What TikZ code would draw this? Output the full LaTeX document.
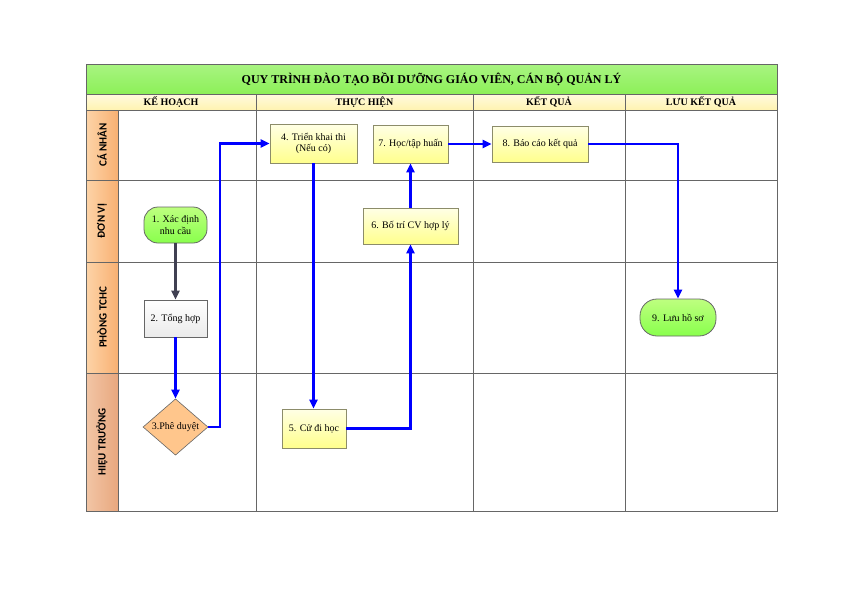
\documentclass[tikz,border=0pt]{standalone}
\usepackage{fontspec}
\setmainfont{Liberation Serif}
\newfontfamily\lanefont{Carlito}
\usetikzlibrary{shapes.geometric,arrows.meta}

\definecolor{gridgray}{HTML}{666666}
\definecolor{titlegreen}{HTML}{8CF058}
\definecolor{headyellow}{HTML}{FFF3B0}
\definecolor{boxline}{HTML}{8C8C6A}
\definecolor{darklink}{HTML}{404052}
\definecolor{lanelight}{HTML}{FDD4A8}
\definecolor{lanedark}{HTML}{F8B072}
\definecolor{bosslight}{HTML}{F2C6A6}
\definecolor{bossdark}{HTML}{E8A77E}

\tikzset{
  box/.style={draw=boxline, line width=0.8pt, top color=yellow!10, bottom color=yellow!45,
    minimum height=37pt, inner sep=1pt, align=center, font=\fontsize{10}{11.5}\selectfont},
  term/.style={box, draw=gridgray, top color=green!35!lime!50, bottom color=green!55!lime!70,
    rounded corners=16pt},
  link/.style={draw=blue, line width=2.5pt, -{Triangle[length=9pt,width=8pt]}},
  lane/.style={rotate=90, font=\lanefont\bfseries\fontsize{11}{12}\selectfont},
  head/.style={font=\bfseries\fontsize{10}{11}\selectfont}
}

\begin{document}
\begin{tikzpicture}[x=1pt,y=-1pt]
  \useasboundingbox (0,0) rectangle (842,595);

  % title and column heads
  \shade[top color=titlegreen!75!white, bottom color=titlegreen] (86,64) rectangle (777,94);
  \shade[top color=headyellow!40!white, bottom color=headyellow] (86,94) rectangle (777,110);
  \shade[left color=lanelight, right color=lanedark] (86,110) rectangle (118,373);
  \shade[left color=bosslight, right color=bossdark] (86,373) rectangle (118,511);

  \node[font=\bfseries\fontsize{12}{13}\selectfont] (title) at (431.5,79)
    {QUY TRÌNH ĐÀO TẠO BỒI DƯỠNG GIÁO VIÊN, CÁN BỘ QUẢN LÝ};
  \node[head] (plan) at (171,102) {KẾ HOẠCH};
  \node[head] (exec) at (364.5,102) {THỰC HIỆN};
  \node[head] (result) at (549,102) {KẾT QUẢ};
  \node[head] (store) at (701,102) {LƯU KẾT QUẢ};

  \node[lane] (canhan) at (102,145) {CÁ NHÂN};
  \node[lane] (donvi) at (102,221) {ĐƠN VỊ};
  \node[lane] (tchc) at (102,317.5) {PHÒNG TCHC};
  \node[lane] (hieutruong) at (102,442) {HIỆU TRƯỞNG};

  % grid
  \draw[gridgray, line width=0.8pt] (86,64) rectangle (777,511);
  \draw[gridgray, line width=0.8pt] (86,94) -- (777,94) (86,110) -- (777,110)
    (86,180) -- (777,180) (86,262) -- (777,262) (86,373) -- (777,373);
  \draw[gridgray, line width=0.8pt] (118,110) -- (118,511)
    (256,94) -- (256,511) (473,94) -- (473,511) (625,94) -- (625,511);

  % steps
  \node[term, minimum width=63pt, minimum height=36pt, rounded corners=14pt] (n1) at (175.5,225) {1. Xác định\\nhu cầu};
  \node[box, draw=gridgray, top color=white, bottom color=black!8, minimum width=63pt] (n2) at (175.5,318.5) {2. Tổng hợp};
  \node[diamond, draw=gridgray, line width=0.6pt, fill=orange!45!white, inner sep=0pt,
    minimum width=65pt, minimum height=45pt, font=\fontsize{10}{11}\selectfont] (n3) at (175.5,427) {3.Phê duyệt};
  \node[box, minimum width=87pt, minimum height=39pt] (n4) at (313.5,143.5) {4. Triển khai thi\\(Nếu có)};
  \node[box, minimum width=64pt, minimum height=39pt] (n5) at (314,428.5) {5. Cử đi học};
  \node[box, minimum width=95pt, minimum height=36pt] (n6) at (410.5,226) {6. Bố trí CV hợp lý};
  \node[box, minimum width=75pt, minimum height=38pt] (n7) at (410.5,144) {7. Học/tập huấn};
  \node[box, minimum width=96pt, minimum height=36pt] (n8) at (540,144) {8. Báo cáo kết quả};
  \node[term, minimum width=76pt, minimum height=37pt, rounded corners=17pt] (n9) at (678,317.5) {9. Lưu hồ sơ};

  \coordinate (bend3) at (220,427);

  % flow
  \draw[link, draw=darklink] (n1) -- (n2);
  \draw[link] (n2) -- (n3);
  \draw[link] (n3) -- (bend3) |- (n4);
  \draw[link] (n4.south) -- (n4.south |- n5.north);
  \draw[link] (n5) -| (n6);
  \draw[link] (n6) -- (n7);
  \draw[link] (n7) -- (n8);
  \draw[link] (n8) -| (n9);
\end{tikzpicture}
\end{document}
